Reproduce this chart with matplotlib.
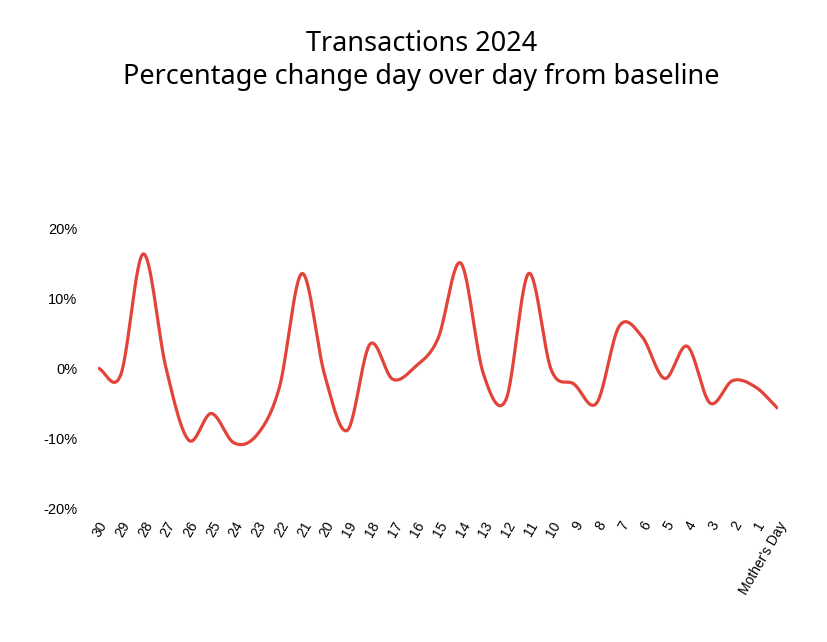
import numpy as np
import matplotlib
matplotlib.use("Agg")
import matplotlib.pyplot as plt
from matplotlib.ticker import FuncFormatter

days = ["30", "29", "28", "27", "26", "25", "24", "23", "22", "21", "20",
        "19", "18", "17", "16", "15", "14", "13", "12", "11", "10",
        "9", "8", "7", "6", "5", "4", "3", "2", "1", "Mother's Day"]
pct_change = [0.0, -1.0, 16.3, 0.0, -10.3, -6.5, -10.7, -9.6, -2.8, 13.5, -1.0,
              -8.9, 3.4, -1.6, 0.2, 4.2, 15.0, -0.8, -4.5, 13.5, -0.3,
              -2.3, -5.0, 6.0, 4.5, -1.5, 3.1, -5.0, -1.8, -2.7, -5.8]
y_ticks = [-20, -10, 0, 10, 20]

title_lines = ["Transactions 2024", "Percentage change day over day from baseline"]


def catmull_rom(xs, ys, n=30):
    xs = np.asarray(xs, float)
    ys = np.asarray(ys, float)
    m = np.zeros_like(ys)
    m[1:-1] = (ys[2:] - ys[:-2]) / 2.0
    m[0] = ys[1] - ys[0]
    m[-1] = ys[-1] - ys[-2]
    ox, oy = [], []
    for i in range(len(xs) - 1):
        t = np.linspace(0, 1, n, endpoint=False)
        h00 = 2 * t**3 - 3 * t**2 + 1
        h10 = t**3 - 2 * t**2 + t
        h01 = -2 * t**3 + 3 * t**2
        h11 = t**3 - t**2
        oy.append(h00 * ys[i] + h10 * m[i] + h01 * ys[i + 1] + h11 * m[i + 1])
        ox.append(xs[i] + t * (xs[i + 1] - xs[i]))
    ox.append([xs[-1]])
    oy.append([ys[-1]])
    return np.concatenate(ox), np.concatenate(oy)


fig = plt.figure(figsize=(8.28, 6.42), dpi=100)
ax = fig.add_axes([98 / 828, 134 / 642, 680 / 828, 280 / 642])

x = np.arange(len(days))
sx, sy = catmull_rom(x, pct_change)
ax.plot(sx, sy, color="#e3443a", linewidth=2.3, solid_capstyle="butt")

ax.set_xlim(0, len(days) - 1)
ax.set_ylim(-20, 20)
ax.set_yticks(y_ticks)
ax.yaxis.set_major_formatter(FuncFormatter(lambda v, p: f"{int(v)}%"))
ax.set_xticks(x)
ax.set_xticklabels(days, rotation=60, ha="right", va="top",
                   rotation_mode="anchor", family="Liberation Sans", fontsize=10)
for lab in ax.get_yticklabels():
    lab.set_family("Liberation Sans")
    lab.set_fontsize(10.5)
ax.tick_params(axis="y", length=0, pad=15)
ax.tick_params(axis="x", length=0, pad=8)
for s in ax.spines.values():
    s.set_visible(False)

fig.text(0.509, 1 - 44 / 642, title_lines[0], ha="center", va="center",
         fontsize=19.5, family="Noto Sans")
fig.text(0.509, 1 - 77 / 642, title_lines[1], ha="center", va="center",
         fontsize=19.5, family="Noto Sans")

fig.savefig("out.png", dpi=100)
